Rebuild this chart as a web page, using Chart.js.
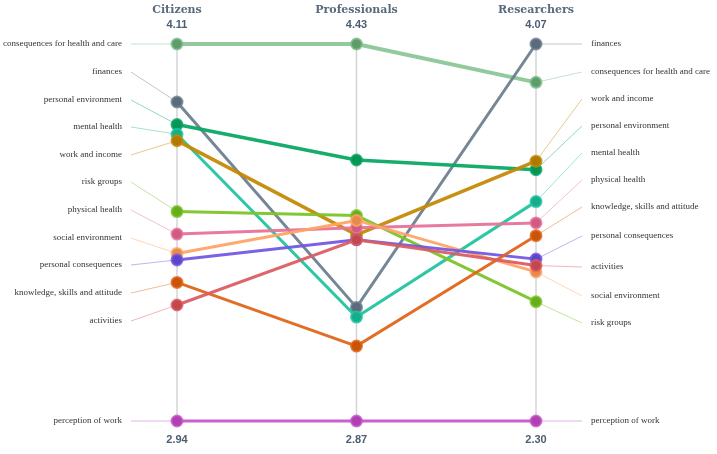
<!DOCTYPE html>
<html>
<head>
<meta charset="utf-8">
<script src="https://cdn.jsdelivr.net/npm/chart.js@4"></script>
<style>
  html, body { margin: 0; padding: 0; background: #fff; }
  #wrap { width: 717px; height: 454px; }
</style>
</head>
<body>
<div id="wrap"><canvas id="myChart" width="717" height="454"></canvas></div>
<script>
// groups (one vertical axis each) and their own scale ends
const categories = ['Citizens', 'Professionals', 'Researchers'];
const axisMax = [4.11, 4.43, 4.07];
const axisMin = [2.94, 2.87, 2.30];

const topics = [
  'consequences for health and care',
  'finances',
  'personal environment',
  'mental health',
  'work and income',
  'risk groups',
  'physical health',
  'social environment',
  'personal consequences',
  'knowledge, skills and attitude',
  'activities',
  'perception of work',
];

// mean score per topic: [Citizens, Professionals, Researchers]
const consequencesHealthCare = [4.11, 4.43, 3.89];
const finances = [3.93, 3.34, 4.07];
const personalEnvironment = [3.86, 3.95, 3.48];
const mentalHealth = [3.83, 3.30, 3.33];
const workAndIncome = [3.81, 3.64, 3.52];
const riskGroups = [3.59, 3.72, 2.86];
const physicalHealth = [3.52, 3.67, 3.23];
const socialEnvironment = [3.46, 3.70, 3.00];
const personalConsequences = [3.44, 3.62, 3.06];
const knowledgeSkills = [3.37, 3.18, 3.17];
const activities = [3.30, 3.62, 3.03];
const perceptionOfWork = [2.94, 2.87, 2.30];

const values = [
  consequencesHealthCare, finances, personalEnvironment, mentalHealth,
  workAndIncome, riskGroups, physicalHealth, socialEnvironment,
  personalConsequences, knowledgeSkills, activities, perceptionOfWork,
];

// styling
const lineColors = [
  '#7fbf8c', '#6e7f90', '#0aa864', '#22c4a0', '#c48a06', '#7cc42a',
  '#e8739a', '#ffa466', '#7458e2', '#e0661a', '#db5d63', '#c657c8',
];
const dotColors = [
  '#5f9c6c', '#5b6b7e', '#069556', '#15ad8c', '#b07a00', '#68ad1a',
  '#d05a80', '#e58a4c', '#5e44cc', '#c95408', '#c24850', '#b040b2',
];
const lineWidths = [4, 3, 3.5, 3, 3.5, 3, 3, 3, 3, 3, 3, 3];

// label slots (px below the top of the plot), filled in value order
const leftSlots = [0, 28, 56, 83, 111, 138, 166, 194, 221, 249, 277];
const rightSlots = [0, 28, 55, 82, 109, 136, 163, 192, 223, 252, 279];

function norm(v, i) {
  return (v - axisMin[i]) / (axisMax[i] - axisMin[i]);
}

function alpha(hex, a) {
  const n = parseInt(hex.slice(1), 16);
  return 'rgba(' + (n >> 16) + ',' + ((n >> 8) & 255) + ',' + (n & 255) + ',' + a + ')';
}

const datasets = topics.map((t, k) => ({
  label: t,
  data: values[k].map((v, i) => ({ x: i, y: norm(v, i) })),
  borderColor: alpha(lineColors[k], k === 0 ? 0.85 : 0.95),
  borderWidth: lineWidths[k],
  pointRadius: 5.5,
  pointHoverRadius: 5.5,
  pointBorderWidth: 2,
  pointBackgroundColor: dotColors[k],
  pointBorderColor: alpha(lineColors[k], 0.8),
  tension: 0,
  clip: false,
  order: topics.length - k,
}));

const serif = "'Liberation Serif', 'DejaVu Serif', serif";
const sans = "'Liberation Sans', Arial, sans-serif";

const axesPlugin = {
  id: 'axesPlugin',
  beforeDatasetsDraw(chart) {
    const { ctx, chartArea, scales } = chart;
    ctx.save();
    ctx.strokeStyle = '#d4d4d8';
    ctx.lineWidth = 1.5;
    categories.forEach((c, i) => {
      const x = scales.x.getPixelForValue(i);
      ctx.beginPath();
      ctx.moveTo(x, chartArea.top);
      ctx.lineTo(x, chartArea.bottom);
      ctx.stroke();
    });

    // leader lines + labels on the outer axes
    const sides = [
      { axis: 0, slots: leftSlots, dir: -1 },
      { axis: 2, slots: rightSlots, dir: 1 },
    ];
    sides.forEach(side => {
      const x = scales.x.getPixelForValue(side.axis);
      const idx = topics.map((t, k) => k)
        .sort((a, b) => values[b][side.axis] - values[a][side.axis]);
      idx.forEach((k, r) => {
        const dotY = scales.y.getPixelForValue(norm(values[k][side.axis], side.axis));
        const ly = r < side.slots.length ? chartArea.top + side.slots[r] : dotY;
        const endX = x + side.dir * 46;
        ctx.strokeStyle = alpha(lineColors[k], 0.45);
        ctx.lineWidth = 1;
        ctx.beginPath();
        ctx.moveTo(x, dotY);
        ctx.lineTo(endX, ly);
        ctx.stroke();
        ctx.fillStyle = '#333333';
        ctx.font = '9px ' + serif;
        ctx.textBaseline = 'middle';
        ctx.textAlign = side.dir < 0 ? 'right' : 'left';
        ctx.fillText(topics[k], endX + side.dir * 9, ly);
      });
    });
    ctx.restore();
  },
  afterDraw(chart) {
    const { ctx, chartArea, scales } = chart;
    ctx.save();
    ctx.textAlign = 'center';
    ctx.textBaseline = 'middle';
    categories.forEach((c, i) => {
      const x = scales.x.getPixelForValue(i);
      ctx.fillStyle = '#5a6b7e';
      ctx.font = "bold 11px 'DejaVu Serif', serif";
      ctx.fillText(c, x, 10);
      ctx.fillStyle = '#4c5e72';
      ctx.font = 'bold 11px ' + sans;
      ctx.fillText(axisMax[i].toFixed(2), x, 25);
      ctx.fillText(axisMin[i].toFixed(2), x, chartArea.bottom + 19);
    });
    ctx.restore();
  },
};

const config = {
  type: 'line',
  data: { datasets: datasets },
  options: {
    responsive: false,
    animation: false,
    layout: { padding: { left: 177, right: 181, top: 44, bottom: 33 } },
    scales: {
      x: { type: 'linear', min: 0, max: 2, display: false },
      y: { type: 'linear', min: 0, max: 1, display: false },
    },
    plugins: {
      legend: { display: false },
      tooltip: { enabled: false },
    },
  },
  plugins: [axesPlugin],
};

var myChart = new Chart(document.getElementById('myChart'), config);
</script>
</body>
</html>
